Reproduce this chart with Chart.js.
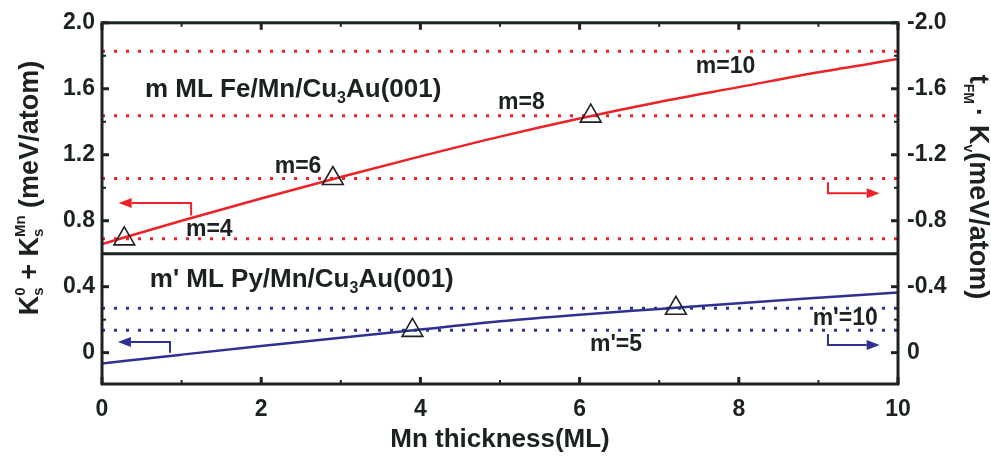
<!DOCTYPE html>
<html>
<head>
<meta charset="utf-8">
<script src="https://cdn.jsdelivr.net/npm/chart.js@4.4.0/dist/chart.umd.min.js"></script>
<style>
  html, body { margin: 0; padding: 0; background: #fff; }
  #wrap { width: 991px; height: 459px; }
</style>
</head>
<body>
<div id="wrap"><canvas id="chart" width="991" height="459"></canvas></div>
<script>
// valores
const thickness = [0, 1, 2, 3, 4, 5, 6, 7, 8, 9, 10];
const feAnisotropy = [0.659, 0.80, 0.935, 1.065, 1.19, 1.31, 1.42, 1.52, 1.61, 1.70, 1.78];
const pyAnisotropy = [-0.065, -0.012, 0.04, 0.09, 0.14, 0.19, 0.23, 0.265, 0.30, 0.333, 0.365];
const feCrossX = [0.28, 2.90, 6.14];
const feCrossY = [0.69, 1.056, 1.434];
const pyCrossX = [3.90, 7.21];
const pyCrossY = [0.135, 0.269];
const feLevels = [0.69, 1.056, 1.436, 1.828];
const pyLevels = [0.1365, 0.269];
const panelSplit = 0.6;
const xTicks = [0, 2, 4, 6, 8, 10];
const xMinor = [1, 3, 5, 7, 9];
const yTicks = [0, 0.4, 0.8, 1.2, 1.6, 2.0];
const yMinor = [0.2, 0.6, 1.0, 1.4, 1.8];

const RED = '#ec2229';
const BLUE = '#2e3192';
const INK = '#1c2222';
const FAMILY = '"Liberation Sans", Arial, Helvetica, sans-serif';
const font = s => 'bold ' + s + 'px ' + FAMILY;

// anotacoes (posicao em unidades dos eixos)
const notes = [
  { x: 0.54, y: 1.549, parts: [{ t: 'm ML Fe/Mn/Cu', s: 26 }, { t: '3', s: 16, dy: 6 }, { t: 'Au(001)', s: 26 }] },
  { x: 0.60, y: 0.398, parts: [{ t: "m' ML Py/Mn/Cu", s: 26 }, { t: '3', s: 16, dy: 6 }, { t: 'Au(001)', s: 26 }] },
  { x: 1.055, y: 0.706, parts: [{ t: 'm=4', s: 23 }] },
  { x: 2.17, y: 1.092, parts: [{ t: 'm=6', s: 23 }] },
  { x: 4.975, y: 1.478, parts: [{ t: 'm=8', s: 23 }] },
  { x: 7.46, y: 1.697, parts: [{ t: 'm=10', s: 23 }] },
  { x: 6.13, y: 0.012, parts: [{ t: "m'=5", s: 23 }] },
  { x: 8.93, y: 0.166, parts: [{ t: "m'=10", s: 23 }] }
];

const arrows = [
  { color: RED, path: [[1.12, 0.831], [1.12, 0.908], [0.21, 0.908]] },
  { color: RED, path: [[9.12, 1.033], [9.12, 0.967], [9.77, 0.967]] },
  { color: BLUE, path: [[0.854, 0.0], [0.854, 0.065], [0.20, 0.065]] },
  { color: BLUE, path: [[9.12, 0.113], [9.12, 0.047], [9.77, 0.047]] }
];

function drawParts(ctx, parts, x, y, angle, center) {
  ctx.save();
  ctx.translate(x, y);
  ctx.rotate(angle);
  ctx.textBaseline = 'alphabetic';
  ctx.textAlign = 'left';
  let total = 0;
  parts.forEach(p => {
    ctx.font = font(p.s);
    p.w = ctx.measureText(p.t).width;
    if (p.adv !== false) total += p.w + (p.gap || 0);
  });
  let cx = center ? -total / 2 : 0;
  parts.forEach(p => {
    ctx.font = font(p.s);
    ctx.fillText(p.t, cx, p.dy || 0);
    if (p.adv !== false) cx += p.w + (p.gap || 0);
  });
  ctx.restore();
}

const levelSet = (levels, color) => levels.map(l => ({
  data: [{ x: 0, y: l }, { x: 10, y: l }],
  borderColor: color,
  borderWidth: 3,
  borderDash: [3, 9],
  borderCapStyle: 'butt',
  pointRadius: 0,
  fill: false
}));

const framePlugin = {
  id: 'frame',
  afterDraw(chart) {
    const ctx = chart.ctx;
    const a = chart.chartArea;
    const xs = chart.scales.x, ys = chart.scales.y;
    ctx.save();
    ctx.fillStyle = INK;
    ctx.strokeStyle = INK;

    // linha que separa os dois paineis
    ctx.lineWidth = 3;
    ctx.beginPath();
    const sy = ys.getPixelForValue(panelSplit);
    ctx.moveTo(a.left, sy);
    ctx.lineTo(a.right, sy);
    ctx.stroke();

    // ticks para dentro
    const tick = (x1, y1, x2, y2, w) => {
      ctx.lineWidth = w;
      ctx.beginPath();
      ctx.moveTo(x1, y1);
      ctx.lineTo(x2, y2);
      ctx.stroke();
    };
    xTicks.forEach(v => {
      const px = xs.getPixelForValue(v);
      tick(px, a.bottom, px, a.bottom - 7, 3);
      tick(px, a.top, px, a.top + 7, 3);
    });
    xMinor.forEach(v => {
      const px = xs.getPixelForValue(v);
      tick(px, a.bottom, px, a.bottom - 4, 2);
      tick(px, a.top, px, a.top + 4, 2);
    });
    yTicks.forEach(v => {
      const py = ys.getPixelForValue(v);
      tick(a.left, py, a.left + 7, py, 3);
      tick(a.right, py, a.right - 7, py, 3);
    });
    yMinor.forEach(v => {
      const py = ys.getPixelForValue(v);
      tick(a.left, py, a.left + 4, py, 2);
      tick(a.right, py, a.right - 4, py, 2);
    });

    // moldura
    ctx.lineWidth = 3;
    ctx.strokeRect(a.left, a.top, a.right - a.left, a.bottom - a.top);

    // setas
    arrows.forEach(ar => {
      const pts = ar.path.map(p => [xs.getPixelForValue(p[0]), ys.getPixelForValue(p[1])]);
      const n = pts.length;
      const [tx, ty] = pts[n - 1];
      const [px, py] = pts[n - 2];
      const ang = Math.atan2(ty - py, tx - px);
      const len = 13, half = 5;
      ctx.strokeStyle = ar.color;
      ctx.fillStyle = ar.color;
      ctx.lineWidth = 2;
      ctx.beginPath();
      ctx.moveTo(pts[0][0], pts[0][1]);
      for (let i = 1; i < n - 1; i++) ctx.lineTo(pts[i][0], pts[i][1]);
      ctx.lineTo(tx - Math.cos(ang) * len, ty - Math.sin(ang) * len);
      ctx.stroke();
      ctx.beginPath();
      ctx.moveTo(tx, ty);
      ctx.lineTo(tx - Math.cos(ang) * len - Math.sin(ang) * half, ty - Math.sin(ang) * len + Math.cos(ang) * half);
      ctx.lineTo(tx - Math.cos(ang) * len + Math.sin(ang) * half, ty - Math.sin(ang) * len - Math.cos(ang) * half);
      ctx.closePath();
      ctx.fill();
    });

    // textos
    ctx.fillStyle = INK;
    notes.forEach(n => {
      drawParts(ctx, n.parts, xs.getPixelForValue(n.x), ys.getPixelForValue(n.y), 0, false);
    });

    // titulos dos eixos
    drawParts(ctx, [
      { t: 'K', s: 27 },
      { t: '0', s: 15, dy: -13, adv: false },
      { t: 's', s: 15, dy: 5 },
      { t: ' + ', s: 27 },
      { t: 'K', s: 27 },
      { t: 's', s: 15, dy: 5, adv: false },
      { t: 'Mn', s: 15, dy: -13 },
      { t: ' (meV/atom)', s: 27 }
    ], 38, 188, -Math.PI / 2, true);

    drawParts(ctx, [
      { t: 't', s: 27 },
      { t: 'FM', s: 14, dy: 6, gap: 4 },
      { t: '\u00b7', s: 27, gap: 8 },
      { t: 'K', s: 27 },
      { t: 'v', s: 14, dy: 6 },
      { t: '(meV/atom)', s: 27 }
    ], 970, 187, Math.PI / 2, true);

    drawParts(ctx, [{ t: 'Mn thickness(ML)', s: 26 }], 500, 447, 0, true);
    ctx.restore();
  }
};

const tickFont = { family: FAMILY, size: 23, weight: 'bold' };

new Chart(document.getElementById('chart'), {
  type: 'line',
  data: {
    datasets: [
      {
        type: 'scatter',
        data: feCrossX.map((x, i) => ({ x, y: feCrossY[i] })),
        pointStyle: 'triangle',
        pointRadius: 12,
        pointBorderColor: INK,
        pointBackgroundColor: 'rgba(0,0,0,0)',
        pointBorderWidth: 1.6,
        showLine: false
      },
      {
        type: 'scatter',
        data: pyCrossX.map((x, i) => ({ x, y: pyCrossY[i] })),
        pointStyle: 'triangle',
        pointRadius: 12,
        pointBorderColor: INK,
        pointBackgroundColor: 'rgba(0,0,0,0)',
        pointBorderWidth: 1.6,
        showLine: false
      },
      {
        data: thickness.map((x, i) => ({ x, y: feAnisotropy[i] })),
        borderColor: RED,
        borderWidth: 2.5,
        pointRadius: 0,
        cubicInterpolationMode: 'monotone',
        fill: false
      },
      {
        data: thickness.map((x, i) => ({ x, y: pyAnisotropy[i] })),
        borderColor: BLUE,
        borderWidth: 2.5,
        pointRadius: 0,
        cubicInterpolationMode: 'monotone',
        fill: false
      },
      ...levelSet(feLevels, RED),
      ...levelSet(pyLevels, BLUE)
    ]
  },
  options: {
    responsive: false,
    animation: false,
    events: [],
    layout: { padding: { top: 16, left: 0, right: 0, bottom: 0 } },
    plugins: { legend: { display: false }, tooltip: { enabled: false } },
    scales: {
      x: {
        type: 'linear',
        min: 0,
        max: 10,
        grid: { display: false, drawTicks: false },
        border: { display: false },
        ticks: { font: tickFont, color: INK, padding: 12, callback: v => String(v) },
        afterBuildTicks: s => { s.ticks = xTicks.map(v => ({ value: v })); },
        afterFit: s => { s.height = 75; }
      },
      y: {
        position: 'left',
        min: -0.19,
        max: 2.0,
        grid: { display: false, drawTicks: false },
        border: { display: false },
        ticks: { font: tickFont, color: INK, padding: 7, callback: v => v === 0 ? '0' : v.toFixed(1) },
        afterBuildTicks: s => { s.ticks = yTicks.map(v => ({ value: v })); },
        afterFit: s => { s.width = 102; }
      },
      y2: {
        position: 'right',
        min: -0.19,
        max: 2.0,
        grid: { display: false, drawTicks: false },
        border: { display: false },
        ticks: { font: tickFont, color: INK, padding: 9, callback: v => v === 0 ? '0' : (-v).toFixed(1) },
        afterBuildTicks: s => { s.ticks = yTicks.map(v => ({ value: v })); },
        afterFit: s => { s.width = 93; }
      }
    }
  },
  plugins: [framePlugin]
});
</script>
</body>
</html>
